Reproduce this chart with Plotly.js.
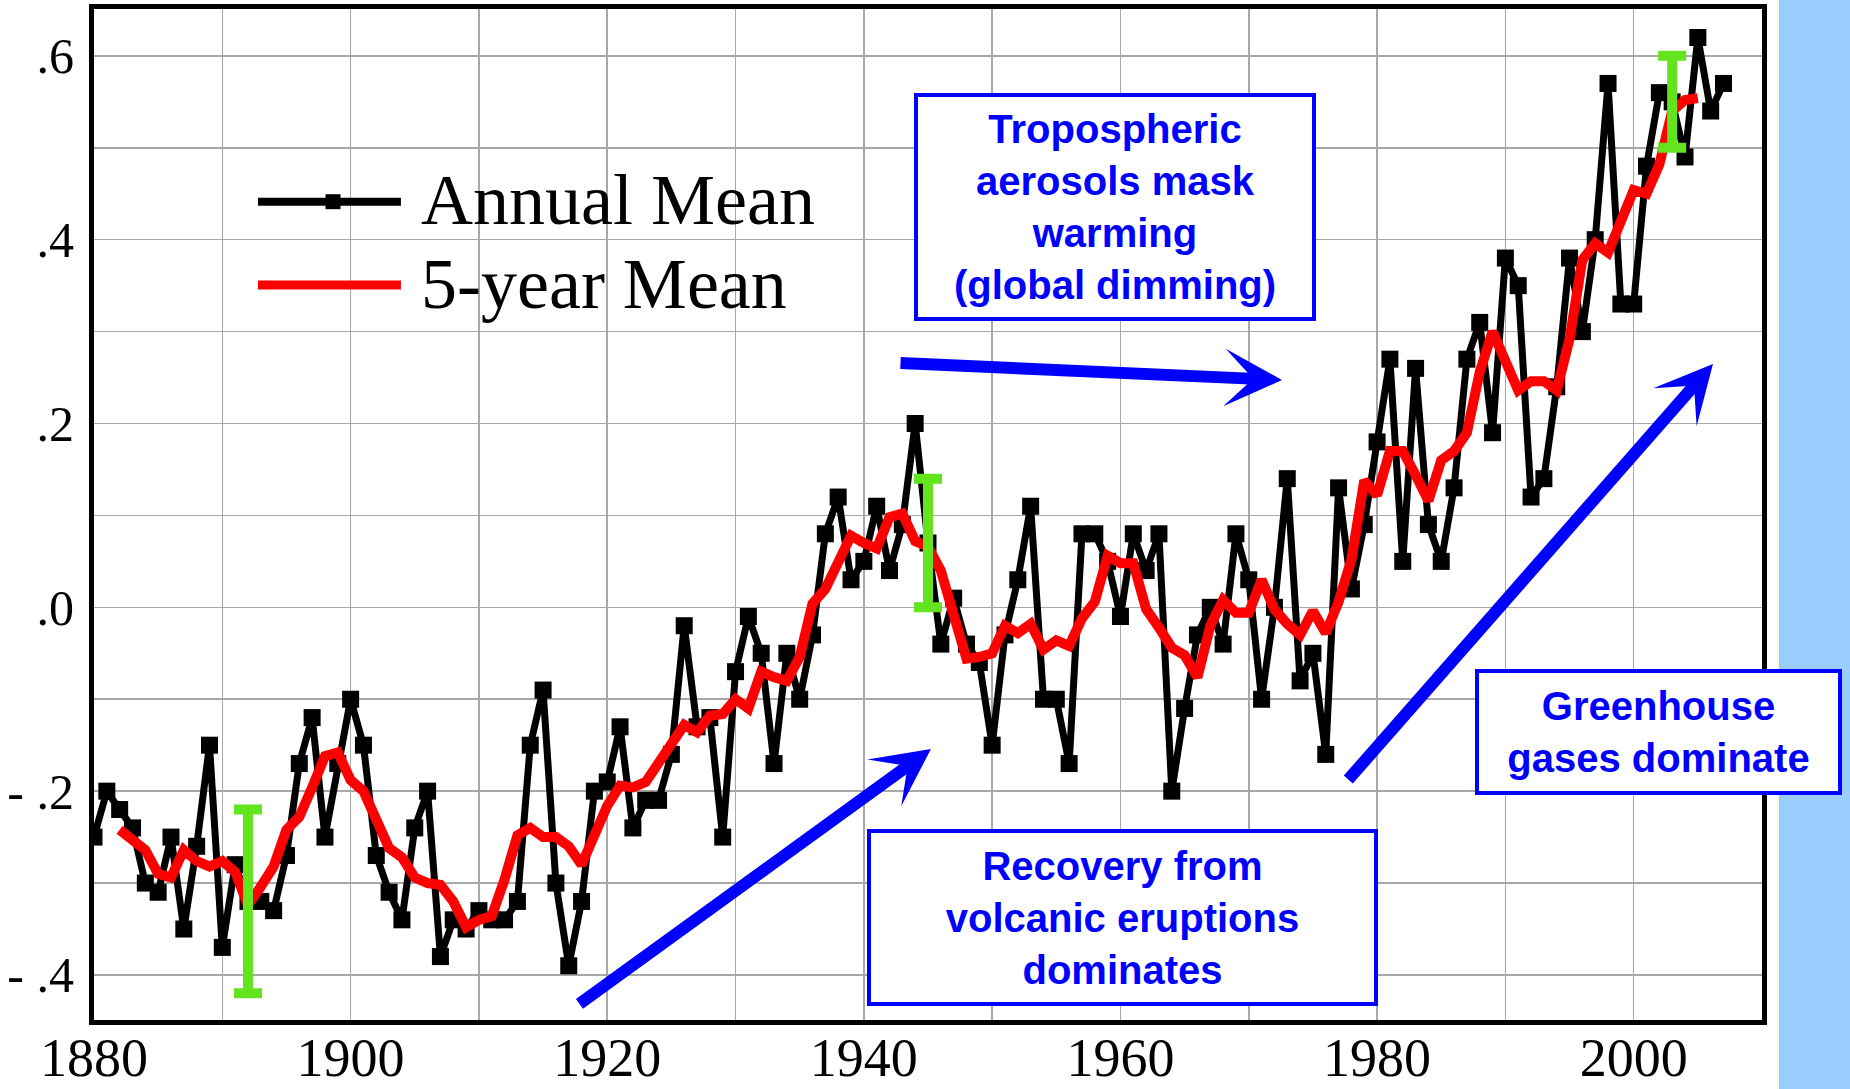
<!DOCTYPE html>
<html>
<head>
<meta charset="utf-8">
<script src="https://cdn.plot.ly/plotly-3.0.1.min.js"></script>
<style>
html, body { margin: 0; padding: 0; background: #ffffff; }
#chart { width: 1850px; height: 1089px; }
</style>
</head>
<body>
<div id="chart"></div>
<script>
// ---------- data ----------
const years = [
  1880,1881,1882,1883,1884,1885,1886,1887,1888,1889,
  1890,1891,1892,1893,1894,1895,1896,1897,1898,1899,
  1900,1901,1902,1903,1904,1905,1906,1907,1908,1909,
  1910,1911,1912,1913,1914,1915,1916,1917,1918,1919,
  1920,1921,1922,1923,1924,1925,1926,1927,1928,1929,
  1930,1931,1932,1933,1934,1935,1936,1937,1938,1939,
  1940,1941,1942,1943,1944,1945,1946,1947,1948,1949,
  1950,1951,1952,1953,1954,1955,1956,1957,1958,1959,
  1960,1961,1962,1963,1964,1965,1966,1967,1968,1969,
  1970,1971,1972,1973,1974,1975,1976,1977,1978,1979,
  1980,1981,1982,1983,1984,1985,1986,1987,1988,1989,
  1990,1991,1992,1993,1994,1995,1996,1997,1998,1999,
  2000,2001,2002,2003,2004,2005,2006,2007
];

const annualMean = [
  -0.25,-0.20,-0.22,-0.24,-0.30,-0.31,-0.25,-0.35,-0.26,-0.15,
  -0.37,-0.28,-0.32,-0.32,-0.33,-0.27,-0.17,-0.12,-0.25,-0.17,
  -0.10,-0.15,-0.27,-0.31,-0.34,-0.24,-0.20,-0.38,-0.34,-0.35,
  -0.33,-0.34,-0.34,-0.32,-0.15,-0.09,-0.30,-0.39,-0.32,-0.20,
  -0.19,-0.13,-0.24,-0.21,-0.21,-0.16,-0.02,-0.13,-0.12,-0.25,
  -0.07,-0.01,-0.05,-0.17,-0.05,-0.10,-0.03, 0.08, 0.12, 0.03,
   0.05, 0.11, 0.04, 0.09, 0.20, 0.07,-0.04, 0.01,-0.04,-0.06,
  -0.15,-0.03, 0.03, 0.11,-0.10,-0.10,-0.17, 0.08, 0.08, 0.05,
  -0.01, 0.08, 0.04, 0.08,-0.20,-0.11,-0.03, 0.00,-0.04, 0.08,
   0.03,-0.10, 0.00, 0.14,-0.08,-0.05,-0.16, 0.13, 0.02, 0.09,
   0.18, 0.27, 0.05, 0.26, 0.09, 0.05, 0.13, 0.27, 0.31, 0.19,
   0.38, 0.35, 0.12, 0.14, 0.24, 0.38, 0.30, 0.40, 0.57, 0.33,
   0.33, 0.48, 0.56, 0.55, 0.49, 0.62, 0.54, 0.57
];

// 5-year mean: 1882 .. 2005
const fiveYearYears = years.slice(2, 126);
const fiveYearMean = [
  -0.242,-0.254,-0.264,-0.290,-0.294,-0.264,-0.276,-0.282,-0.276,-0.288,
  -0.324,-0.304,-0.282,-0.242,-0.228,-0.196,-0.162,-0.158,-0.188,-0.200,
  -0.234,-0.262,-0.272,-0.294,-0.300,-0.302,-0.320,-0.348,-0.340,-0.336,
  -0.296,-0.248,-0.240,-0.250,-0.250,-0.260,-0.280,-0.246,-0.216,-0.194,
  -0.196,-0.190,-0.168,-0.146,-0.128,-0.136,-0.118,-0.116,-0.100,-0.110,
  -0.070,-0.076,-0.080,-0.054, 0.004, 0.020, 0.050, 0.078, 0.070, 0.064,
   0.098, 0.102, 0.072, 0.066, 0.040,-0.012,-0.056,-0.054,-0.050,-0.020,
  -0.028,-0.018,-0.046,-0.036,-0.042,-0.012, 0.006, 0.056, 0.048, 0.048,
  -0.002,-0.022,-0.044,-0.052,-0.076,-0.020, 0.008,-0.006,-0.006, 0.030,
  -0.002,-0.018,-0.030,-0.004,-0.028, 0.006, 0.052, 0.138, 0.122, 0.170,
   0.170, 0.144, 0.116, 0.160, 0.170, 0.190, 0.256, 0.300, 0.270, 0.236,
   0.246, 0.246, 0.236, 0.292, 0.378, 0.396, 0.386, 0.422, 0.454, 0.450,
   0.482, 0.540, 0.552, 0.554
];

// uncertainty bars
const errYears = [1892, 1945, 2003];
const errCenters = [-0.32, 0.07, 0.55];
const errHalf = [0.10, 0.07, 0.05];

// ticks
const xTickVals = [1880,1890,1900,1910,1920,1930,1940,1950,1960,1970,1980,1990,2000];
const xTickText = ['1880','','1900','','1920','','1940','','1960','','1980','','2000'];
const yTickVals = [-0.4,-0.3,-0.2,-0.1,0,0.1,0.2,0.3,0.4,0.5,0.6];
const yTickText = ['- .4','','- .2','','.0','','.2','','.4','','.6'];

const legendLabels = ['Annual Mean', '5-year Mean'];
const noteAerosols = 'Tropospheric<br>aerosols mask<br>warming<br>(global dimming)';
const noteVolcanic = 'Recovery from<br>volcanic eruptions<br>dominates';
const noteGreenhouse = 'Greenhouse<br>gases dominate';

// ---------- traces ----------
const traces = [
  {
    x: years, y: annualMean, type: 'scatter', mode: 'lines+markers',
    name: legendLabels[0],
    line: {color: '#000000', width: 7},
    marker: {symbol: 'square', size: 17, color: '#000000'}
  },
  {
    x: fiveYearYears, y: fiveYearMean, type: 'scatter', mode: 'lines',
    name: legendLabels[1],
    line: {color: '#ff0000', width: 10}
  },
  {
    x: errYears, y: errCenters, type: 'scatter', mode: 'markers',
    marker: {size: 1, color: 'rgba(0,0,0,0)'},
    error_y: {type: 'data', array: errHalf, visible: true, color: '#63e41e', thickness: 10, width: 14},
    hoverinfo: 'skip'
  }
];

const blue = '#0000ff';
const noteFont = {family: 'Liberation Sans, Arial, sans-serif', size: 40, color: blue, weight: 'bold'};
const gridColor = '#a8a8a8';
const serif = 'Liberation Serif, Times New Roman, serif';

const layout = {
  width: 1850, height: 1089,
  margin: {l: 94, r: 88, t: 9, b: 69, pad: 0},
  paper_bgcolor: '#ffffff', plot_bgcolor: '#ffffff',
  showlegend: false,
  xaxis: {
    range: [1880, 2010], tickmode: 'array', tickvals: xTickVals, ticktext: xTickText,
    showgrid: true, gridcolor: gridColor, gridwidth: 1.5, zeroline: false,
    showline: true, linecolor: '#000000', linewidth: 5, mirror: true,
    ticks: '', ticklabelstandoff: -14,
    tickfont: {family: serif, size: 54, color: '#000000'}
  },
  yaxis: {
    range: [-0.449, 0.651], tickmode: 'array', tickvals: yTickVals, ticktext: yTickText,
    showgrid: true, gridcolor: gridColor, gridwidth: 1.5, zeroline: false,
    showline: true, linecolor: '#000000', linewidth: 5, mirror: true,
    ticks: '', ticklabelstandoff: 5,
    tickfont: {family: serif, size: 50, color: '#000000'}
  },
  shapes: [
    // light blue strip at right edge of the slide
    {type: 'rect', xref: 'paper', yref: 'paper', x0: 1.0102, x1: 1.06, y0: -0.1, y1: 1.05,
     fillcolor: '#99ccff', line: {width: 0}, layer: 'above'},
    // legend keys
    {type: 'line', xref: 'paper', yref: 'paper', x0: 0.0983, x1: 0.184, y0: 0.8094, y1: 0.8094,
     line: {color: '#000000', width: 8}},
    {type: 'rect', xref: 'paper', yref: 'paper', x0: 0.1388, x1: 0.1478, y0: 0.8020, y1: 0.8168,
     fillcolor: '#000000', line: {width: 0}},
    {type: 'line', xref: 'paper', yref: 'paper', x0: 0.0983, x1: 0.184, y0: 0.727, y1: 0.727,
     line: {color: '#ff0000', width: 9}}
  ],
  annotations: [
    {xref: 'paper', yref: 'paper', x: 0.195, y: 0.8111, xanchor: 'left', yanchor: 'middle',
     text: legendLabels[0], showarrow: false,
     font: {family: serif, size: 72, color: '#000000'}},
    {xref: 'paper', yref: 'paper', x: 0.195, y: 0.7280, xanchor: 'left', yanchor: 'middle',
     text: legendLabels[1], showarrow: false,
     font: {family: serif, size: 72, color: '#000000'}},
    // text boxes
    {xref: 'x', yref: 'y', x: 1959.57, y: 0.4355, xanchor: 'center', yanchor: 'middle',
     text: noteAerosols, showarrow: false, font: noteFont, align: 'center',
     bordercolor: blue, borderwidth: 4, borderpad: 0, bgcolor: '#ffffff', width: 394, height: 220},
    {xref: 'x', yref: 'y', x: 1960.16, y: -0.3376, xanchor: 'center', yanchor: 'middle',
     text: noteVolcanic, showarrow: false, font: noteFont, align: 'center',
     bordercolor: blue, borderwidth: 4, borderpad: 0, bgcolor: '#ffffff', width: 503, height: 169},
    {xref: 'x', yref: 'y', x: 2001.93, y: -0.1357, xanchor: 'center', yanchor: 'middle',
     text: noteGreenhouse, showarrow: false, font: noteFont, align: 'center',
     bordercolor: blue, borderwidth: 4, borderpad: 0, bgcolor: '#ffffff', width: 359, height: 118},
    // arrows
    {xref: 'x', yref: 'y', x: 1972.59, y: 0.2473, ax: -383, ay: -17, text: '', showarrow: true,
     arrowhead: 3, arrowsize: 0.8, arrowwidth: 12, arrowcolor: blue, standoff: 0},
    {xref: 'x', yref: 'y', x: 1945.23, y: -0.1542, ax: -353, ay: 256, text: '', showarrow: true,
     arrowhead: 3, arrowsize: 0.8, arrowwidth: 12, arrowcolor: blue, standoff: 0},
    {xref: 'x', yref: 'y', x: 2006.18, y: 0.2647, ax: -366, ay: 417, text: '', showarrow: true,
     arrowhead: 3, arrowsize: 0.8, arrowwidth: 12, arrowcolor: blue, standoff: 0}
  ]
};

Plotly.newPlot('chart', traces, layout, {displayModeBar: false, staticPlot: true});
</script>
</body>
</html>
